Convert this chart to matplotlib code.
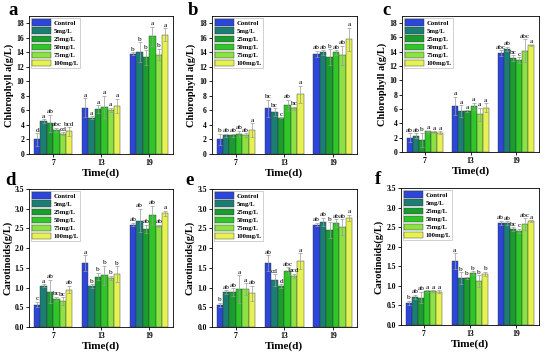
import matplotlib
matplotlib.use("Agg")

import matplotlib.pyplot as plt
import matplotlib.ticker as ticker
import numpy as np

plt.rcParams.update({
    "font.family": "Liberation Serif",
    "font.weight": "bold",
    "axes.linewidth": 0.6,
    "xtick.major.size": 2,
    "ytick.major.size": 2,
    "xtick.major.width": 0.6,
    "ytick.major.width": 0.6,
})

days = ["7", "13", "19"]
treatments = ["Control", "5mg/L", "25mg/L", "50mg/L", "75mg/L", "100mg/L"]
colors = ["#2b46d8", "#1c7d72", "#1a9c2e", "#30c62a", "#8ce244", "#e6f254"]

# values[day][treatment]
chl_a = [[2.0, 4.5, 4.2, 3.3, 2.8, 3.1],
         [6.4, 5.0, 6.2, 6.5, 6.1, 6.6],
         [13.8, 14.0, 13.3, 16.2, 13.7, 16.4]]
chl_a_err = [[0.9, 0.3, 1.2, 0.3, 0.2, 0.6],
             [1.3, 0.2, 0.5, 1.5, 0.3, 1.0],
             [0.2, 1.4, 1.0, 1.3, 0.8, 0.9]]
chl_a_sig = [["d", "a", "ab", "abc", "cd", "bcd"],
             ["a", "a", "a", "a", "a", "a"],
             ["b", "b", "b", "a", "b", "a"]]

chl_b = [[2.0, 2.6, 2.6, 2.8, 2.6, 3.3],
         [6.3, 5.8, 5.0, 6.7, 6.3, 8.2],
         [13.8, 14.0, 13.3, 14.0, 13.6, 15.8]]
chl_b_err = [[0.8, 0.2, 0.2, 0.4, 0.3, 0.9],
             [1.2, 0.5, 0.1, 0.8, 0.2, 1.2],
             [0.4, 0.3, 1.1, 0.3, 1.3, 1.6]]
chl_b_sig = [["b", "ab", "ab", "ab", "ab", "a"],
             ["bc", "bc", "c", "ab", "bc", "a"],
             ["ab", "ab", "b", "ab", "ab", "a"]]

chl_c = [[2.0, 2.3, 1.7, 2.9, 2.8, 2.7],
         [6.4, 5.7, 5.7, 6.4, 5.3, 6.2],
         [13.8, 14.4, 13.1, 12.8, 14.1, 14.9]]
chl_c_err = [[0.6, 0.3, 1.0, 0.1, 0.1, 0.2],
             [1.3, 0.8, 0.1, 0.5, 0.9, 0.6],
             [0.4, 0.3, 0.4, 0.4, 1.6, 0.1]]
chl_c_sig = [["ab", "ab", "b", "a", "a", "a"],
             ["a", "a", "a", "a", "a", "a"],
             ["abc", "ab", "bc", "c", "abc", "a"]]

car_d = [[0.57, 1.05, 0.90, 0.72, 0.65, 0.95],
         [1.62, 1.03, 1.28, 1.31, 1.25, 1.34],
         [2.60, 2.70, 2.49, 2.83, 2.56, 2.88]]
car_d_err = [[0.07, 0.03, 0.30, 0.05, 0.10, 0.10],
             [0.20, 0.05, 0.10, 0.25, 0.05, 0.20],
             [0.05, 0.30, 0.10, 0.25, 0.03, 0.07]]
car_d_sig = [["c", "a", "ab", "bc", "bc", "ab"],
             ["a", "b", "b", "b", "b", "b"],
             ["ab", "ab", "ab", "ab", "ab", "a"]]

car_e = [[0.57, 0.88, 0.88, 0.97, 0.96, 0.85],
         [1.62, 1.19, 1.03, 1.42, 1.30, 1.67],
         [2.60, 2.67, 2.46, 2.64, 2.53, 2.77]]
car_e_err = [[0.05, 0.05, 0.10, 0.35, 0.15, 0.20],
             [0.20, 0.15, 0.05, 0.10, 0.05, 0.20],
             [0.05, 0.10, 0.20, 0.10, 0.20, 0.08]]
car_e_sig = [["b", "ab", "ab", "a", "a", "ab"],
             ["ab", "cd", "d", "abc", "bcd", "a"],
             ["ab", "ab", "b", "ab", "ab", "a"]]

car_f = [[0.57, 0.72, 0.70, 0.86, 0.86, 0.85],
         [1.63, 1.20, 1.20, 1.32, 1.12, 1.31],
         [2.61, 2.60, 2.45, 2.41, 2.57, 2.65]]
car_f_err = [[0.05, 0.05, 0.15, 0.02, 0.02, 0.03],
             [0.20, 0.15, 0.03, 0.05, 0.15, 0.05],
             [0.05, 0.05, 0.05, 0.05, 0.15, 0.03]]
car_f_sig = [["b", "ab", "ab", "a", "a", "a"],
             ["a", "b", "b", "b", "b", "b"],
             ["ab", "ab", "bc", "c", "abc", "a"]]

# letter, data, axes rect, letter position (pixels from top-left)
panels = [
    ("a", chl_a, chl_a_err, chl_a_sig, "Chlorophyll a(g/L)", [0.053, 0.5625, 0.262, 0.392], (8, 15)),
    ("b", chl_b, chl_b_err, chl_b_sig, "Chlorophyll a(g/L)", [0.385, 0.5625, 0.264, 0.392], (188, 15)),
    ("c", chl_c, chl_c_err, chl_c_sig, "Chlorophyll a(g/L)", [0.731, 0.5680, 0.249, 0.387], (382, 15)),
    ("d", car_d, car_d_err, car_d_sig, "Carotinoids(g/L)", [0.053, 0.071, 0.262, 0.392], (5, 185)),
    ("e", car_e, car_e_err, car_e_sig, "Carotinoids(g/L)", [0.385, 0.071, 0.264, 0.392], (185, 185)),
    ("f", car_f, car_f_err, car_f_sig, "Carotinoids(g/L)", [0.729, 0.077, 0.251, 0.389], (375, 184)),
]

W, H = 550, 352
fig = plt.figure(figsize=(5.5, 3.52), dpi=100)

x = np.arange(len(days))
width = 0.8 / len(treatments)

for letter, vals, errs, sigs, ylabel, pos, lpos in panels:
    ax = fig.add_axes(pos)
    vals = np.array(vals)
    errs = np.array(errs)
    top = 19 if vals.max() > 5 else 3.5
    for j, (name, c) in enumerate(zip(treatments, colors)):
        xs = x - 0.4 + width * (j + 0.5)
        ax.bar(xs, vals[:, j], width, color=c, edgecolor="#333333",
               linewidth=0.3, label=name)
        ax.errorbar(xs, vals[:, j], yerr=errs[:, j], fmt="none",
                    ecolor="#9a9a9a", elinewidth=0.5, capsize=1.2, capthick=0.5)
        for i in range(len(days)):
            ax.text(xs[i], vals[i, j] + errs[i, j] + top * 0.003, sigs[i][j],
                    ha="center", va="bottom", fontsize=5.2, fontweight="normal")
    ax.set_xlim(-0.5, 2.5)
    ax.set_ylim(0, top)
    ax.set_xticks(x)
    ax.set_xticklabels(days, fontsize=5.5)
    if top > 5:
        ax.set_yticks(np.arange(0, 19, 2))
    else:
        ax.set_yticks(np.arange(0, 3.6, 0.5))
        ax.yaxis.set_major_formatter(ticker.FormatStrFormatter("%.1f"))
    ax.tick_params(axis="y", labelsize=5.5, pad=1.5)
    ax.tick_params(axis="x", pad=1.5)
    ax.set_ylabel(ylabel, fontsize=7.5, fontweight="bold", labelpad=2)
    ax.set_xlabel("Time(d)", fontsize=8, fontweight="bold", labelpad=1)
    fig.text(lpos[0] / W, 1 - lpos[1] / H, letter, fontsize=13.5,
             fontweight="bold", ha="left", va="baseline")
    leg = ax.legend(loc="upper left", fontsize=4.8, frameon=True, fancybox=False,
                    borderpad=0.2, labelspacing=0.25, handlelength=2.8,
                    handleheight=1.1, handletextpad=0.4, borderaxespad=0.3)
    leg.get_frame().set_edgecolor("#999999")
    leg.get_frame().set_linewidth(0.4)

fig.savefig("out.png", dpi=100)
